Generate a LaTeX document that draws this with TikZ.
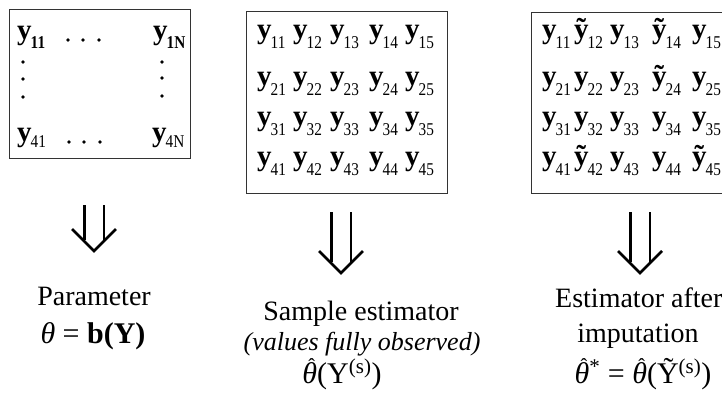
\documentclass[tikz,border=0pt]{standalone}
\usepackage{fontspec}
\setmainfont{Liberation Serif}
\newcommand\subs[2]{\kern-1pt\raisebox{#1}{\fontsize{18}{18}\selectfont\scalebox{0.85}[1]{#2}}}
\newcommand\ye[2]{\textbf{#1}\subs{-10pt}{#2}}
\newcommand\yb[2]{\textbf{#1}\subs{-9pt}{\bfseries #2}}
\newcommand\yc[2]{\textbf{#1}\subs{-6pt}{#2}}
\newcommand\that{\makebox[0pt][l]{\hspace{6pt}\raisebox{11pt}{\fontsize{20}{20}\selectfont ˆ}}{\itshape θ}}
\begin{document}
\begin{tikzpicture}[x=1pt,y=-1pt,
  box/.style={draw=black!80, line width=1.3pt, inner sep=0, anchor=north west},
  ent/.style={anchor=base west, inner sep=0, font=\fontsize{29}{29}\selectfont},
  lbl/.style={anchor=base, inner sep=0, font=\fontsize{28}{30}\selectfont},
  ital/.style={anchor=base, inner sep=0, font=\fontsize{26}{30}\selectfont\itshape},
  frm/.style={anchor=base, inner sep=0, font=\fontsize{30}{30}\selectfont},
  shaft/.style={double, double distance=17pt, line width=2.8pt},
  head/.style={line width=2.8pt, line join=miter},
  dot/.style={fill=black}]
\useasboundingbox (0,0) rectangle (722,410);
\clip (0,0) rectangle (722,410);
% boxes
\node[box, minimum width=181pt, minimum height=149pt] (box1) at (9,9) {};
\node[box, minimum width=201pt, minimum height=182pt] (box2) at (246,11) {};
\node[box, minimum width=205pt, minimum height=181pt] (box3) at (531,12) {};
% box 1 entries
\node[ent] (a11) at (17,39) {\yb{y}{11}};
\node[ent] (a1N) at (153,39) {\yb{y}{1N}};
\node[ent] (a41) at (17,141) {\yc{y}{41}};
\node[ent] (a4N) at (152,141) {\yc{y}{4N}};
\foreach \x in {68,83,99} \fill[dot] (\x,40) circle (1.8pt);
\foreach \x in {69,84,100} \fill[dot] (\x,142) circle (1.8pt);
\foreach \y in {62,79,97} \fill[dot] (23,\y) circle (1.8pt);
\foreach \y in {62,78,96} \fill[dot] (162,\y) circle (1.8pt);
% box 2 entries
\foreach \r/\yy in {1/38,2/85,3/125,4/165}
  \foreach \c/\xx in {1/257,2/293,3/330,4/369,5/405}
    \node[ent] (b\r\c) at (\xx,\yy) {\ye{y}{\r\c}};
% box 3 entries
\foreach \r/\yy/\la/\lb/\lc/\ld/\le in {1/38/y/ỹ/y/ỹ/y,2/85/y/y/y/ỹ/y,3/125/y/y/y/y/y,4/165/y/ỹ/y/y/ỹ}{
  \node[ent] (c\r1) at (542,\yy) {\ye{\la}{\r1}};
  \node[ent] (c\r2) at (574,\yy) {\ye{\lb}{\r2}};
  \node[ent] (c\r3) at (610,\yy) {\ye{\lc}{\r3}};
  \node[ent] (c\r4) at (652,\yy) {\ye{\ld}{\r4}};
  \node[ent] (c\r5) at (692,\yy) {\ye{\le}{\r5}};
}
% arrows
\coordinate (t1) at (94,205);  \coordinate (h1) at (94,251);
\coordinate (t2) at (341,212); \coordinate (h2) at (341,273);
\coordinate (t3) at (640,212); \coordinate (h3) at (640,273);
\foreach \i in {1,2,3}{
  \draw[shaft] (t\i) -- ([yshift=11pt]h\i);
  \draw[head] ([xshift=-22pt,yshift=22pt]h\i) -- (h\i) -- ([xshift=22pt,yshift=22pt]h\i);
}
% labels
\node[lbl] (p1) at (94,305) {Parameter};
\node[frm] (p2) at (93,343) {\textit{θ} = \textbf{b(Y)}};
\node[lbl] (s1) at (361,320) {Sample estimator};
\node[ital] (s2) at (362,350) {(values fully observed)};
\node[frm] (s3) at (342,383) {\that(Y\textsuperscript{(s)})};
\node[lbl, anchor=base west] (e1) at (555,307) {Estimator after};
\node[lbl] (e2) at (638,342) {imputation};
\node[frm] (e3) at (643,383) {\that\textsuperscript{*} = \that(Ỹ\textsuperscript{(s)})};
\end{tikzpicture}
\end{document}
